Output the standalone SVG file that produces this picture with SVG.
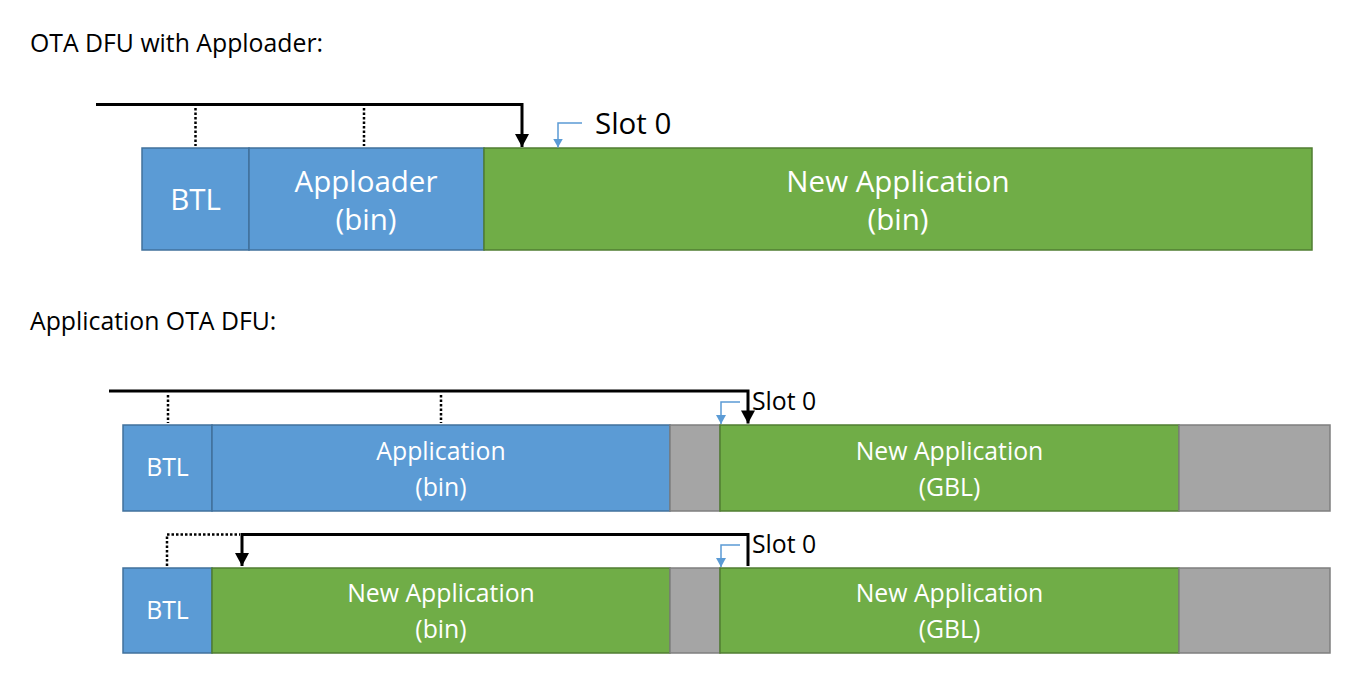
<svg xmlns="http://www.w3.org/2000/svg" width="1361" height="684" viewBox="0 0 1361 684">
<style>
text{font-family:"Open Sans","Liberation Sans",sans-serif;}
.title{font-size:24.8px;fill:#000;}
.lbl{fill:#fff;text-anchor:middle;}
.big{font-size:29.5px;}
.sm{font-size:24.8px;}
.slot{fill:#000;}
.blue{fill:#5B9BD5;stroke:#41719C;stroke-width:1.5;}
.green{fill:#70AD47;stroke:#507E32;stroke-width:1.5;}
.gray{fill:#A5A5A5;stroke:#7F7F7F;stroke-width:1.5;}
.ptr{fill:none;stroke:#000;stroke-width:3;}
.dot{fill:none;stroke:#000;stroke-width:2.5;stroke-dasharray:2.5 2;}
.bptr{fill:none;stroke:#5B9BD5;stroke-width:1.5;}
</style>
<defs>
<marker id="ah" markerUnits="userSpaceOnUse" markerWidth="16" markerHeight="16" viewBox="0 0 16 16" refX="14" refY="8" orient="auto">
<path d="M1,1 L14,8 L1,15 Z" fill="#000"/>
</marker>
<marker id="bh" markerUnits="userSpaceOnUse" markerWidth="10" markerHeight="10" viewBox="0 0 10 10" refX="9" refY="5" orient="auto">
<path d="M0,0 L9,5 L0,10 Z" fill="#5B9BD5"/>
</marker>
</defs>
<rect width="1361" height="684" fill="#fff"/>

<text class="title" x="30" y="52">OTA DFU with Apploader:</text>
<text class="title" x="30" y="330">Application OTA DFU:</text>

<!-- Section 1 -->
<g id="s1-btl"><rect class="blue" x="142" y="148" width="107" height="102"/><text class="lbl big" x="195.5" y="210">BTL</text></g>
<g id="s1-apploader"><rect class="blue" x="249" y="148" width="235" height="102"/><text class="lbl big" x="366" y="192">Apploader</text><text class="lbl big" x="366" y="230">(bin)</text></g>
<g id="s1-newapp"><rect class="green" x="484" y="148" width="828" height="102"/><text class="lbl big" x="898" y="192">New Application</text><text class="lbl big" x="898" y="230">(bin)</text></g>
<text class="slot big" x="595" y="134">Slot 0</text>

<!-- Section 2 row 1 -->
<g id="r1-btl"><rect class="blue" x="123" y="425" width="89" height="86"/><text class="lbl sm" x="167.5" y="476">BTL</text></g>
<g id="r1-app"><rect class="blue" x="212" y="425" width="458" height="86"/><text class="lbl sm" x="441" y="460">Application</text><text class="lbl sm" x="441" y="496">(bin)</text></g>
<g id="r1-gap"><rect class="gray" x="670" y="425" width="50" height="86"/></g>
<g id="r1-gbl"><rect class="green" x="720" y="425" width="459" height="86"/><text class="lbl sm" x="949.5" y="460">New Application</text><text class="lbl sm" x="949.5" y="496">(GBL)</text></g>
<g id="r1-free"><rect class="gray" x="1179" y="425" width="151" height="86"/></g>
<text class="slot sm" x="752" y="410">Slot 0</text>

<!-- Section 2 row 2 -->
<g id="r2-btl"><rect class="blue" x="123" y="568" width="89" height="85"/><text class="lbl sm" x="167.5" y="619">BTL</text></g>
<g id="r2-newapp"><rect class="green" x="212" y="568" width="458" height="85"/><text class="lbl sm" x="441" y="602">New Application</text><text class="lbl sm" x="441" y="638">(bin)</text></g>
<g id="r2-gap"><rect class="gray" x="670" y="568" width="50" height="85"/></g>
<g id="r2-gbl"><rect class="green" x="720" y="568" width="459" height="85"/><text class="lbl sm" x="949.5" y="602">New Application</text><text class="lbl sm" x="949.5" y="638">(GBL)</text></g>
<g id="r2-free"><rect class="gray" x="1179" y="568" width="151" height="85"/></g>
<text class="slot sm" x="752" y="553">Slot 0</text>

<g id="connectors">
<!-- Section 1 -->
<path class="ptr" d="M96,104.5 H522 V147" marker-end="url(#ah)"/>
<path class="dot" d="M195.5,108 V146"/>
<path class="dot" d="M364,108 V146"/>
<path class="bptr" d="M582,123 H558 V147.5" marker-end="url(#bh)"/>
<!-- Row 1 -->
<path class="ptr" d="M109,391 H748 V423.5" marker-end="url(#ah)"/>
<path class="dot" d="M168,395 V423"/>
<path class="dot" d="M441,395 V423"/>
<path class="bptr" d="M740,402 H721 V424" marker-end="url(#bh)"/>
<!-- Row 2 -->
<path class="dot" d="M167,566 V534.5 H240"/>
<path class="ptr" d="M748,566 V534.5 H242 V566" marker-end="url(#ah)"/>
<path class="bptr" d="M740,545 H721 V567" marker-end="url(#bh)"/>
</g>
</svg>
